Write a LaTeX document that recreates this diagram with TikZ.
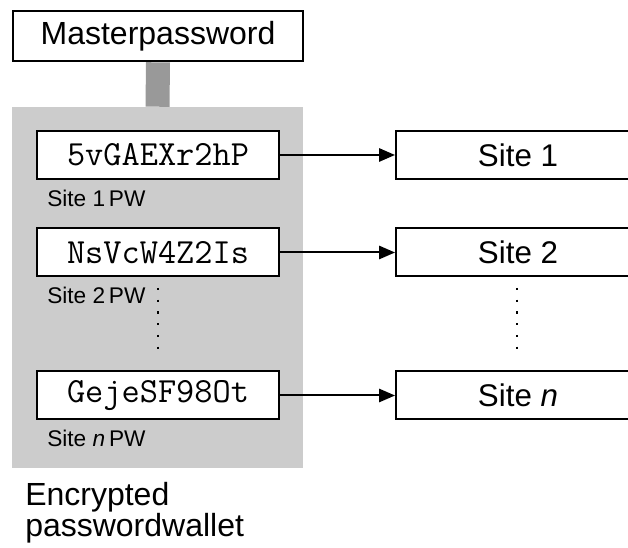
\documentclass[tikz,border=0pt]{standalone}
\usepackage{fontspec}
\setmainfont{Liberation Sans}
\usetikzlibrary{arrows.meta}
\begin{document}
\begin{tikzpicture}[x=0.75pt,y=-0.75pt,
    box/.style={draw,line width=1.5pt,fill=white,inner sep=0pt,minimum height=36pt},
    pwbox/.style={box,minimum width=181.5pt,font=\ttfamily\fontsize{26.5}{28}\selectfont},
    sitebox/.style={box,minimum width=183pt,font=\fontsize{23.5}{26}\selectfont},
    pwlabel/.style={anchor=base west,inner sep=0pt,font=\fontsize{17}{18}\selectfont},
    link/.style={line width=1.5pt,-{Triangle[length=12pt,width=10pt]}},
    gap/.style={line width=1.8pt,dash pattern=on 1.6pt off 7.2pt}]
    \useasboundingbox (0,0) rectangle (628,548);
    \clip (0,0) rectangle (628,548);
    % wallet and master password
    \node[fill=black!20,minimum width=218.25pt,minimum height=270.75pt,inner sep=0pt] (wallet) at (157.5,287.5) {};
    \node[box,minimum width=217.5pt,minimum height=38pt,font=\fontsize{24}{26}\selectfont] (master) at (158,36) {Masterpassword};
    \draw[line width=18pt,black!40] (master.south) -- (wallet.north);
    % stored passwords
    \node[pwbox] (pw1) at (158,155) {5vGAEXr2hP};
    \node[pwbox] (pw2) at (158,252.5) {NsVcW4Z2Is};
    \node[pwbox] (pwn) at (158,395.5) {GejeSF98Ot};
    \node[pwlabel] (lab1) at (47,207) {Site 1\,PW};
    \node[pwlabel] (lab2) at (47,304) {Site 2\,PW};
    \node[pwlabel] (labn) at (47,447) {Site \textit{n}\,PW};
    \draw[gap] (158,288) -- (158,352);
    % sites
    \node[sitebox] (site1) at (518,155) {Site 1};
    \node[sitebox] (site2) at (518,252.5) {Site 2};
    \node[sitebox] (siten) at (518,395.5) {Site \textit{n}};
    \draw[gap] (517,288) -- (517,352);
    \draw[link] (pw1) -- (site1);
    \draw[link] (pw2) -- (site2);
    \draw[link] (pwn) -- (siten);
    \node[anchor=north west,inner sep=0pt,align=left,font=\fontsize{24}{23.25}\selectfont] (title) at (25,482) {Encrypted\\passwordwallet};
\end{tikzpicture}
\end{document}
